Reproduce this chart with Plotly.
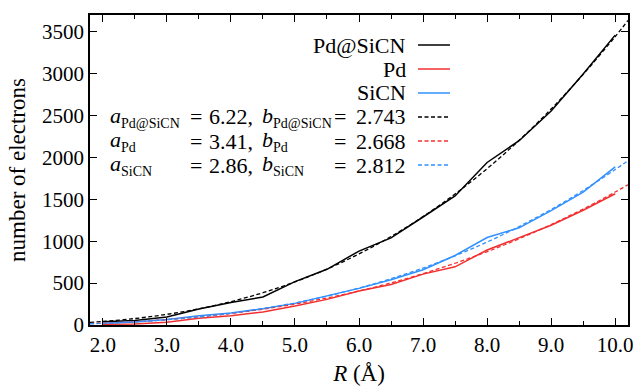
import plotly.graph_objects as go

# ---- data ----
R = [2.0, 2.5, 3.0, 3.5, 4.0, 4.5, 5.0, 5.5, 6.0, 6.5, 7.0, 7.5, 8.0, 8.5, 9.0, 9.5, 10.0]
pdsicn = [40, 55, 95, 190, 268, 335, 518, 665, 882, 1040, 1289, 1540, 1940, 2200, 2555, 2995, 3460]
pd_ = [8, 12, 32, 80, 111, 155, 226, 306, 405, 484, 607, 694, 895, 1040, 1190, 1370, 1567]
sicn = [20, 36, 67, 111, 142, 195, 258, 345, 437, 540, 660, 830, 1044, 1160, 1365, 1585, 1888]

R_fit = [1.8, 2.0, 2.5, 3.0, 3.5, 4.0, 4.5, 5.0, 5.5, 6.0, 6.5, 7.0, 7.5, 8.0, 8.5, 9.0, 9.5, 10.0, 10.2]
fit_pdsicn = [31, 42, 77, 127, 193, 279, 385, 514, 668, 848, 1056, 1294, 1564, 1866, 2204, 2578, 2991, 3442, 3635]
fit_pd = [16, 22, 39, 64, 97, 138, 189, 250, 322, 406, 503, 613, 737, 875, 1029, 1199, 1384, 1587, 1674]
fit_sicn = [15, 20, 38, 63, 97, 141, 197, 264, 345, 441, 553, 680, 826, 990, 1175, 1379, 1606, 1855, 1961]

series_names = ["Pd@SiCN", "Pd", "SiCN"]
fit_a = ["6.22,", "3.41,", "2.86,"]
fit_b = ["2.743", "2.668", "2.812"]
colors = ["#000000", "#f23030", "#3090ff"]

FONT = "Liberation Serif, Times New Roman, DejaVu Serif, serif"

fig = go.Figure()
for ys, c in zip([pdsicn, pd_, sicn], colors):
    fig.add_trace(go.Scatter(x=R, y=ys, mode="lines", line=dict(color=c, width=1.5),
                             showlegend=False))
for ys, c in zip([fit_pdsicn, fit_pd, fit_sicn], colors):
    fig.add_trace(go.Scatter(x=R_fit, y=ys, mode="lines", line_shape="spline",
                             line=dict(color=c, width=1.3, dash="4px,2.5px"),
                             showlegend=False))

W, H = 636, 387
L, Rm, T, B = 90, 8, 15, 62
pw, ph = W - L - Rm, H - T - B


def px(xp):
    return (xp - L) / pw


def py(yp):
    return (H - B - yp) / ph


annotations = []
shapes = []
text_right = 406
line_x0, line_x1 = 418, 450
LEG = 22
SUB = 14
PAD = 2


def note(xx, yy, anc, txt, size=LEG):
    off = -PAD if anc == "left" else PAD
    annotations.append(dict(xref="paper", yref="paper", x=px(xx + off), y=py(yy),
                            xanchor=anc, yanchor="middle", showarrow=False, text=txt,
                            font=dict(family=FONT, size=size, color="black")))


def sub(t):
    return f'<sub><span style="font-size:{SUB}px">{t}</span></sub>'


# solid-line legend rows
rows_y = [45, 69, 93]
for name, c, yy in zip(series_names, colors, rows_y):
    note(text_right, yy, "right", name)
    shapes.append(dict(type="line", xref="paper", yref="paper", x0=px(line_x0), x1=px(line_x1),
                       y0=py(yy), y1=py(yy), line=dict(color=c, width=1.5)))

# fit legend rows
fit_rows_y = [117, 141, 165]
for name, a, b, c, yy in zip(series_names, fit_a, fit_b, colors, fit_rows_y):
    note(110, yy, "left", "<i>a</i>" + sub(name))
    note(190, yy, "left", "=")
    note(209, yy, "left", a)
    note(262, yy, "left", "<i>b</i>" + sub(name))
    note(334, yy, "left", "=")
    note(text_right, yy, "right", b)
    shapes.append(dict(type="line", xref="paper", yref="paper", x0=px(line_x0), x1=px(line_x1),
                       y0=py(yy), y1=py(yy), line=dict(color=c, width=1.3, dash="4px,2.5px")))

fig.update_layout(
    width=W, height=H,
    margin=dict(l=L, r=Rm, t=T, b=B),
    paper_bgcolor="white", plot_bgcolor="white",
    font=dict(family=FONT, size=21, color="black"),
    annotations=annotations, shapes=shapes,
    xaxis=dict(range=[1.8, 10.2], tick0=2.0, dtick=1.0, tickformat=".1f",
               ticks="inside", ticklen=7, tickwidth=1.2, tickcolor="black",
               showline=True, linewidth=1.6, linecolor="black", mirror="allticks",
               showgrid=False, zeroline=False, automargin=False,
               minor=dict(ticks="inside", dtick=0.5, ticklen=4, tickwidth=1.2, tickcolor="black"),
               title=dict(text="<i>R</i> (Å)", font=dict(family=FONT, size=23), standoff=9),
               tickfont=dict(family=FONT, size=21)),
    yaxis=dict(range=[0, 3700], tick0=0, dtick=500,
               ticks="inside", ticklen=7, tickwidth=1.2, tickcolor="black",
               showline=True, linewidth=1.6, linecolor="black", mirror="allticks",
               showgrid=False, zeroline=False, automargin=False,
               title=dict(text="number of electrons", font=dict(family=FONT, size=23), standoff=10),
               tickfont=dict(family=FONT, size=21)),
)

fig.write_html("out.html")
